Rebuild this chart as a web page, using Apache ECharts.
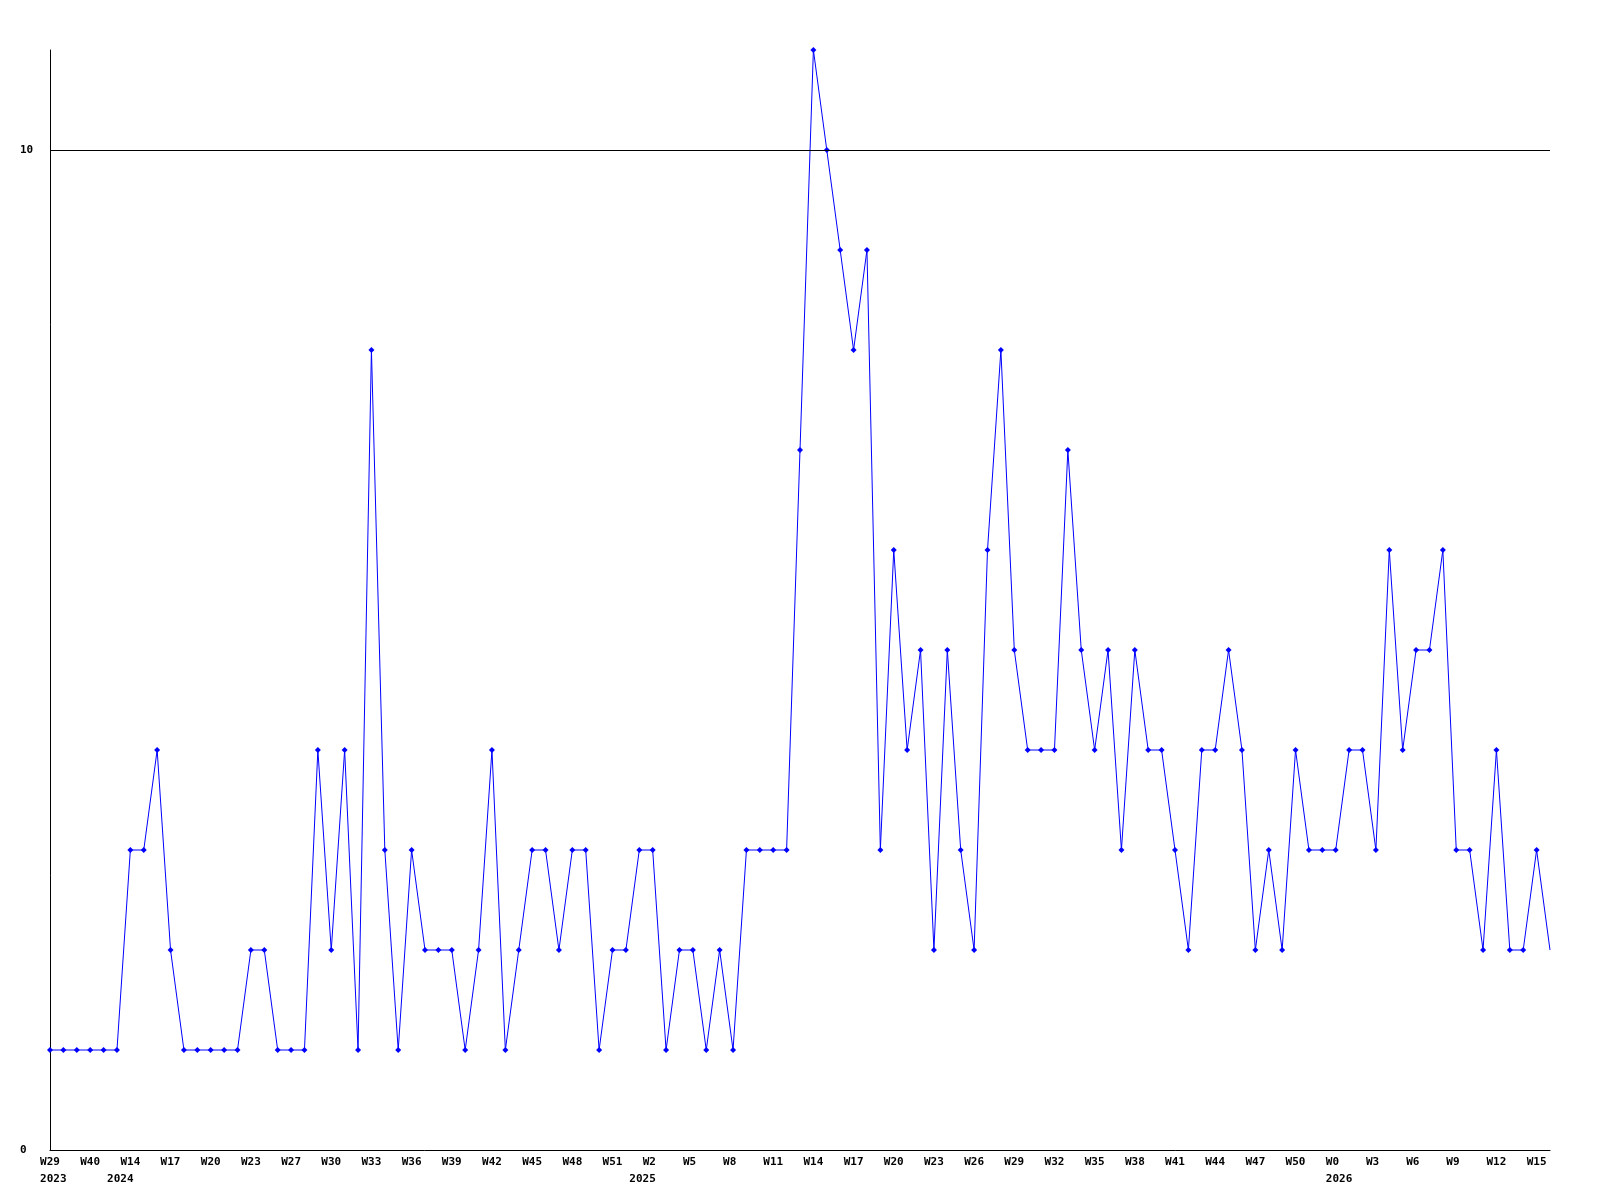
<!DOCTYPE html>
<html>
<head>
<meta charset="utf-8">
<script src="https://cdn.jsdelivr.net/npm/echarts@6/dist/echarts.min.js"></script>
<style>
  html, body { margin: 0; padding: 0; background: #ffffff; }
  #chart { width: 1600px; height: 1200px; }
</style>
</head>
<body>
<div id="chart"></div>
<script>
// Week categories (one per data point)
const weeks = [
  'W29','W33','W37','W40','W48','W13','W14','W15','W16','W17',
  'W18','W19','W20','W21','W22','W23','W24','W25','W27','W28',
  'W29','W30','W31','W32','W33','W34','W35','W36','W37','W38',
  'W39','W40','W41','W42','W43','W44','W45','W46','W47','W48',
  'W49','W50','W51','W52','W1','W2','W3','W4','W5','W6',
  'W7','W8','W9','W10','W11','W12','W13','W14','W15','W16',
  'W17','W18','W19','W20','W21','W22','W23','W24','W25','W26',
  'W27','W28','W29','W30','W31','W32','W33','W34','W35','W36',
  'W37','W38','W39','W40','W41','W42','W43','W44','W45','W46',
  'W47','W48','W49','W50','W51','W52','W0','W1','W2','W3',
  'W4','W5','W6','W7','W8','W9','W10','W11','W12','W13',
  'W14','W15','W16'
];

// Values per week
const values = [
  1,1,1,1,1,1,3,3,4,2,
  1,1,1,1,1,2,2,1,1,1,
  4,2,4,1,8,3,1,3,2,2,
  2,1,2,4,1,2,3,3,2,3,
  3,1,2,2,3,3,1,2,2,1,
  2,1,3,3,3,3,7,11,10,9,
  8,9,3,6,4,5,2,5,3,2,
  6,8,5,4,4,4,7,5,4,5,
  3,5,4,4,3,2,4,4,5,4,
  2,3,2,4,3,3,3,4,4,3,
  6,4,5,5,6,3,3,2,4,2,
  2,3,2
];

// Year labels: index of first week of each year
const yearIndex = [0, 5, 44, 96];
const yearText = ['2023', '2024', '2025', '2026'];

// Y axis labelled ticks
const yTicks = [0, 10];

const FONT = 'DejaVu Sans Mono';

const chart = echarts.init(document.getElementById('chart'), null, { renderer: 'canvas' });

const seriesData = values.map((v, i) => i === values.length - 1 ? { value: v, symbol: 'none' } : v);

chart.setOption({
  backgroundColor: '#ffffff',
  animation: false,
  grid: { left: 50, right: 50, top: 50, bottom: 50, containLabel: false },
  xAxis: [
    {
      type: 'category',
      data: weeks,
      boundaryGap: false,
      position: 'bottom',
      axisLine: { show: true, lineStyle: { color: '#000000', width: 1 } },
      axisTick: { show: false },
      splitLine: { show: false },
      axisLabel: {
        interval: (idx) => idx % 3 === 0,
        color: '#000000',
        fontFamily: FONT,
        fontWeight: 'bold',
        fontSize: 11,
        margin: 7,
        align: 'center',
        formatter: (v) => v.length === 2 ? v + ' ' : v
      }
    },
    {
      type: 'category',
      data: weeks,
      boundaryGap: false,
      position: 'bottom',
      offset: 17,
      axisLine: { show: false },
      axisTick: { show: false },
      splitLine: { show: false },
      axisLabel: {
        interval: 0,
        color: '#000000',
        fontFamily: FONT,
        fontWeight: 'bold',
        fontSize: 11,
        margin: 7,
        align: 'center',
        formatter: (v, idx) => {
          const k = yearIndex.indexOf(idx);
          return k >= 0 ? ' ' + yearText[k] : '';
        }
      }
    }
  ],
  yAxis: {
    type: 'value',
    min: 0,
    max: 11,
    interval: 10,
    axisLine: { show: true, lineStyle: { color: '#000000', width: 1 } },
    axisTick: { show: false },
    splitLine: { show: false },
    axisLabel: {
      color: '#000000',
      fontFamily: FONT,
      fontWeight: 'bold',
      fontSize: 11,
      align: 'left',
      margin: 30,
      showMaxLabel: false,
      formatter: (v) => yTicks.indexOf(v) >= 0 ? String(v) : ''
    }
  },
  series: [
    {
      type: 'line',
      xAxisIndex: 0,
      data: seriesData,
      symbol: 'diamond',
      symbolSize: 6,
      showSymbol: true,
      lineStyle: { color: '#0000ff', width: 1 },
      itemStyle: { color: '#0000ff' },
      markLine: {
        silent: true,
        symbol: ['none', 'none'],
        label: { show: false },
        lineStyle: { color: '#000000', width: 1, type: 'solid' },
        data: [{ yAxis: 10 }]
      },
      z: 3
    }
  ]
});
</script>
</body>
</html>
